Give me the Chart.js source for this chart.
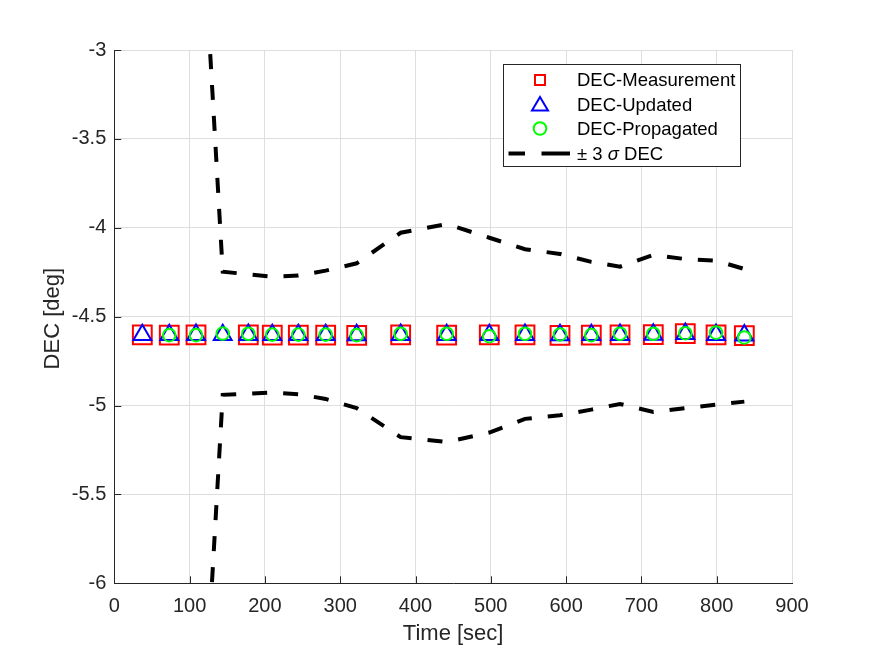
<!DOCTYPE html>
<html><head><meta charset="utf-8">
<script src="https://cdn.jsdelivr.net/npm/chart.js@4/dist/chart.umd.min.js"></script>
<style>html,body{margin:0;padding:0;background:#fff;}#wrap{width:875px;height:656px;}</style>
</head><body><div id="wrap"><canvas id="c" width="875" height="656"></canvas></div>
<script>
const measTime = [37.2, 73.0, 108.5, 178.0, 209.8, 244.4, 280.7, 321.9, 380.3, 441.4, 498.0, 545.4, 591.9, 633.5, 671.6, 715.8, 758.3, 799.1, 836.7];
const measDec  = [-4.603, -4.604, -4.602, -4.602, -4.604, -4.604, -4.604, -4.605, -4.602, -4.604, -4.603, -4.602, -4.605, -4.604, -4.602, -4.601, -4.595, -4.603, -4.607];
const updTime = [37.2, 73.0, 108.5, 144.0, 178.0, 209.8, 244.4, 280.7, 321.9, 380.3, 441.4, 498.0, 545.4, 591.9, 633.5, 671.6, 715.8, 758.3, 799.1, 836.7];
const updDec  = [-4.603, -4.603, -4.602, -4.603, -4.602, -4.603, -4.603, -4.603, -4.604, -4.602, -4.603, -4.603, -4.602, -4.604, -4.603, -4.602, -4.601, -4.597, -4.602, -4.605];
const propTime = [73.0, 108.5, 144.0, 178.0, 209.8, 244.4, 280.7, 321.9, 380.3, 441.4, 498.0, 545.4, 591.9, 633.5, 671.6, 715.8, 758.3, 799.1, 836.7];
const propDec  = [-4.604, -4.604, -4.595, -4.596, -4.601, -4.601, -4.601, -4.604, -4.596, -4.596, -4.610, -4.596, -4.600, -4.604, -4.596, -4.596, -4.593, -4.590, -4.617];
const boundTime = [108.5, 144.0, 178.0, 209.8, 244.4, 280.7, 321.9, 380.3, 441.4, 498.0, 545.4, 591.9, 633.5, 671.6, 715.8, 758.3, 799.1, 836.7];
const upperDec  = [-1.63, -4.247, -4.262, -4.275, -4.269, -4.241, -4.200, -4.028, -3.979, -4.056, -4.121, -4.147, -4.192, -4.219, -4.153, -4.176, -4.185, -4.232];
const lowerDec  = [-7.56, -4.940, -4.933, -4.927, -4.936, -4.963, -5.015, -5.178, -5.205, -5.152, -5.075, -5.055, -5.023, -4.991, -5.036, -5.015, -4.995, -4.978];
const xTicks = [0, 100, 200, 300, 400, 500, 600, 700, 800, 900];
const yTicks = [-6, -5.5, -5, -4.5, -4, -3.5, -3];
const legendLabels = ['DEC-Measurement', 'DEC-Updated', 'DEC-Propagated', '\u00b1 3 \u03c3 DEC'];

const toXY = (xs, ys) => xs.map((x, i) => ({x: x, y: ys[i]}));
const FONT = '"Liberation Sans", Arial, Helvetica, sans-serif';
const AX = '#262626';

const overlay = {
  id: 'overlay',
  afterDraw(chart) {
    const ctx = chart.ctx, ca = chart.chartArea;
    const xs = chart.scales.x, ys = chart.scales.y;
    ctx.save();
    ctx.strokeStyle = AX; ctx.lineWidth = 1;
    xTicks.slice(0, -1).forEach(v => {
      const p = Math.round(xs.getPixelForValue(v)) + 0.5;
      ctx.beginPath(); ctx.moveTo(p, ca.bottom); ctx.lineTo(p, ca.bottom - 7); ctx.stroke();
    });
    yTicks.forEach(v => {
      const p = Math.round(ys.getPixelForValue(v)) + 0.5;
      ctx.beginPath(); ctx.moveTo(ca.left, p); ctx.lineTo(ca.left + 7, p); ctx.stroke();
    });
    ctx.fillStyle = AX;
    ctx.font = '22px ' + FONT;
    ctx.textAlign = 'center'; ctx.textBaseline = 'alphabetic';
    ctx.fillText('Time [sec]', (ca.left + ca.right) / 2, 640);
    ctx.save();
    ctx.translate(58.5, (ca.top + ca.bottom) / 2 + 2);
    ctx.rotate(-Math.PI / 2);
    ctx.fillText('DEC [deg]', 0, 0);
    ctx.restore();
    const L = 503.5, T = 64.5, R = 740.5, B = 166.5;
    ctx.fillStyle = '#fff';
    ctx.fillRect(L, T, R - L, B - T);
    ctx.strokeStyle = '#262626'; ctx.lineWidth = 1;
    ctx.strokeRect(L, T, R - L, B - T);
    const rows = [80, 104.5, 128.5, 153.5];
    const mx = 540;
    ctx.lineWidth = 2; ctx.strokeStyle = '#ff0000';
    ctx.strokeRect(mx - 5, rows[0] - 5, 10, 10);
    ctx.strokeStyle = '#0000ff';
    ctx.beginPath();
    ctx.moveTo(mx, rows[1] - 7.5); ctx.lineTo(mx + 8, rows[1] + 6); ctx.lineTo(mx - 8, rows[1] + 6); ctx.closePath(); ctx.stroke();
    ctx.strokeStyle = '#00ff00';
    ctx.beginPath(); ctx.arc(mx, rows[2], 6.3, 0, Math.PI * 2); ctx.stroke();
    ctx.strokeStyle = '#000'; ctx.lineWidth = 4;
    ctx.beginPath(); ctx.moveTo(508.5, rows[3]); ctx.lineTo(525, rows[3]);
    ctx.moveTo(541.5, rows[3]); ctx.lineTo(570, rows[3]); ctx.stroke();
    ctx.fillStyle = '#000';
    const LF = '18.5px ' + FONT;
    ctx.font = LF;
    ctx.textAlign = 'left'; ctx.textBaseline = 'middle';
    for (let i = 0; i < 3; i++) ctx.fillText(legendLabels[i], 577, rows[i] + 1);
    const parts = legendLabels[3].split('\u03c3');
    let x = 577;
    ctx.fillText(parts[0], x, rows[3] + 1); x += ctx.measureText(parts[0]).width;
    ctx.font = 'italic ' + LF;
    ctx.fillText('\u03c3', x, rows[3] + 1); x += ctx.measureText('\u03c3').width;
    ctx.font = LF;
    ctx.fillText(parts[1], x, rows[3] + 1);
    ctx.restore();
  }
};

const markerDs = (label, xs, ys, style, r, color) => ({
  label: label, data: toXY(xs, ys), pointStyle: style, pointRadius: r,
  borderColor: color, pointBorderColor: color, backgroundColor: 'rgba(0,0,0,0)',
  pointBackgroundColor: 'rgba(0,0,0,0)', borderWidth: 2, pointBorderWidth: 2, showLine: false
});
const boundDs = (label, xs, ys) => ({
  label: label, data: toXY(xs, ys), showLine: true, borderColor: '#000', borderWidth: 4,
  borderDash: [15, 16], pointRadius: 0, fill: false, tension: 0
});

new Chart(document.getElementById('c'), {
  type: 'scatter',
  data: {
    datasets: [
      boundDs(legendLabels[3], boundTime, upperDec),
      boundDs(legendLabels[3] + ' lower', boundTime, lowerDec),
      markerDs(legendLabels[2], propTime, propDec, 'circle', 6.3, '#00ff00'),
      markerDs(legendLabels[1], updTime, updDec, 'triangle', 10.3, '#0000ff'),
      markerDs(legendLabels[0], measTime, measDec, 'rect', 13.3, '#ff0000')
    ]
  },
  options: {
    responsive: false, animation: false, devicePixelRatio: 1, events: [],
    layout: {padding: {left: 0, top: 50, right: 83, bottom: 0}},
    plugins: {legend: {display: false}, tooltip: {enabled: false}},
    scales: {
      x: {
        type: 'linear', min: 0, max: 900,
        afterFit: s => { s.height = 72.7; },
        afterBuildTicks: s => { s.ticks = xTicks.map(v => ({value: v})); },
        ticks: {color: AX, font: {family: FONT, size: 20}, padding: 11, maxRotation: 0, callback: v => String(v)},
        grid: {color: '#dedede', lineWidth: 1, drawTicks: false},
        border: {display: true, color: AX, width: 1}
      },
      y: {
        type: 'linear', min: -6, max: -3,
        afterFit: s => { s.width = 114.3; },
        afterBuildTicks: s => { s.ticks = yTicks.map(v => ({value: v})); },
        ticks: {color: AX, font: {family: FONT, size: 20}, padding: 8, callback: v => String(v)},
        grid: {color: '#dedede', lineWidth: 1, drawTicks: false},
        border: {display: true, color: AX, width: 1}
      }
    }
  },
  plugins: [overlay]
});
</script></body></html>
